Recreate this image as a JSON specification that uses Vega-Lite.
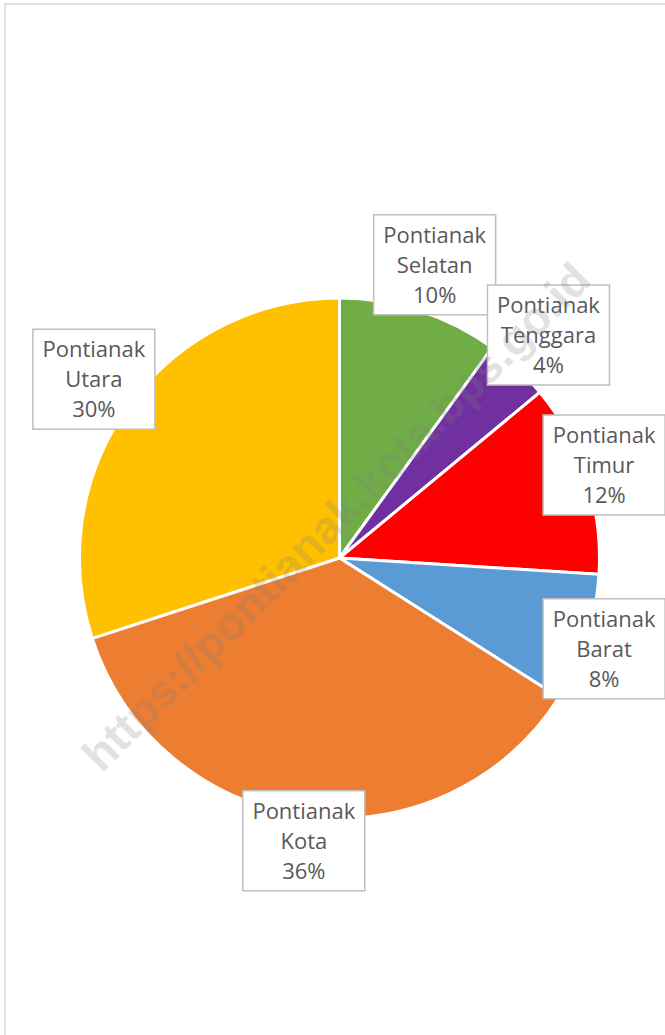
{
  "$schema": "https://vega.github.io/schema/vega-lite/v6.json",
  "width": 665,
  "height": 1035,
  "autosize": {"type": "fit", "contains": "padding"},
  "padding": {"left": 5, "top": 4, "right": -3, "bottom": -3},
  "background": "white",
  "config": {"view": {"stroke": "#d9d9d9", "strokeWidth": 1.5}},
  "layer": [
    {
      "data": {
        "values": [
          {"kecamatan": "Pontianak Selatan", "nama": "Selatan", "persen": 10},
          {"kecamatan": "Pontianak Tenggara", "nama": "Tenggara", "persen": 4},
          {"kecamatan": "Pontianak Timur", "nama": "Timur", "persen": 12},
          {"kecamatan": "Pontianak Barat", "nama": "Barat", "persen": 8},
          {"kecamatan": "Pontianak Kota", "nama": "Kota", "persen": 36},
          {"kecamatan": "Pontianak Utara", "nama": "Utara", "persen": 30}
        ]
      },
      "transform": [
        {"window": [{"op": "row_number", "as": "urutan"}]},
        {"window": [{"op": "sum", "field": "persen", "as": "kum"}], "sort": [{"field": "urutan"}], "frame": [null, 0]},
        {"calculate": "(datum.kum - datum.persen / 2) / 100 * 2 * PI", "as": "sudut"},
        {"calculate": "297 + 12 * cos(datum.sudut)", "as": "jarak"},
        {"calculate": "min(datum.jarak * sin(datum.sudut), 265)", "as": "lx"},
        {"calculate": "datum.jarak * cos(datum.sudut)", "as": "ly"},
        {"calculate": "['Pontianak', datum.nama, datum.persen + '%']", "as": "label"}
      ],
      "layer": [
        {
          "mark": {"type": "arc", "radius": 260, "stroke": "white", "strokeWidth": 3},
          "encoding": {
            "theta": {"field": "persen", "type": "quantitative", "stack": true},
            "order": {"field": "urutan", "type": "quantitative"},
            "color": {
              "field": "kecamatan",
              "type": "nominal",
              "scale": {
                "domain": ["Pontianak Selatan", "Pontianak Tenggara", "Pontianak Timur", "Pontianak Barat", "Pontianak Kota", "Pontianak Utara"],
                "range": ["#70AD47", "#7030A0", "#FF0000", "#5B9BD5", "#ED7D31", "#FFC000"]
              },
              "legend": null
            },
            "x": {"datum": 0, "type": "quantitative", "scale": {"domain": [-335, 328], "nice": false, "zero": false}, "axis": null},
            "y": {"datum": 0, "type": "quantitative", "scale": {"domain": [-480, 554], "nice": false, "zero": false}, "axis": null}
          }
        },
        {
          "mark": {"type": "point", "shape": "M-1.22,-1H1.22V1H-1.22Z", "size": 10000, "filled": true, "fill": "white", "stroke": "#bfbfbf", "strokeWidth": 1.5, "opacity": 1},
          "encoding": {
            "x": {"field": "lx", "type": "quantitative", "scale": {"domain": [-335, 328], "nice": false, "zero": false}, "axis": null},
            "y": {"field": "ly", "type": "quantitative", "scale": {"domain": [-480, 554], "nice": false, "zero": false}, "axis": null}
          }
        },
        {
          "mark": {"type": "text", "font": "Open Sans", "fontSize": 22, "lineHeight": 30, "dy": -29, "fill": "#595959", "align": "center", "baseline": "middle"},
          "encoding": {
            "x": {"field": "lx", "type": "quantitative", "scale": {"domain": [-335, 328], "nice": false, "zero": false}, "axis": null},
            "y": {"field": "ly", "type": "quantitative", "scale": {"domain": [-480, 554], "nice": false, "zero": false}, "axis": null},
            "text": {"field": "label"}
          }
        }
      ]
    },
    {
      "data": {"values": [{"teks": "https://pontianak.kota.bps.go.id"}]},
      "mark": {"type": "text", "font": "Liberation Sans", "fontWeight": "bold", "fontSize": 46, "angle": 315, "fill": "#808080", "opacity": 0.22, "align": "center", "baseline": "middle"},
      "encoding": {
        "x": {"datum": -2, "type": "quantitative", "scale": {"domain": [-335, 328], "nice": false, "zero": false}, "axis": null},
        "y": {"datum": 40, "type": "quantitative", "scale": {"domain": [-480, 554], "nice": false, "zero": false}, "axis": null},
        "text": {"field": "teks"}
      }
    }
  ]
}
